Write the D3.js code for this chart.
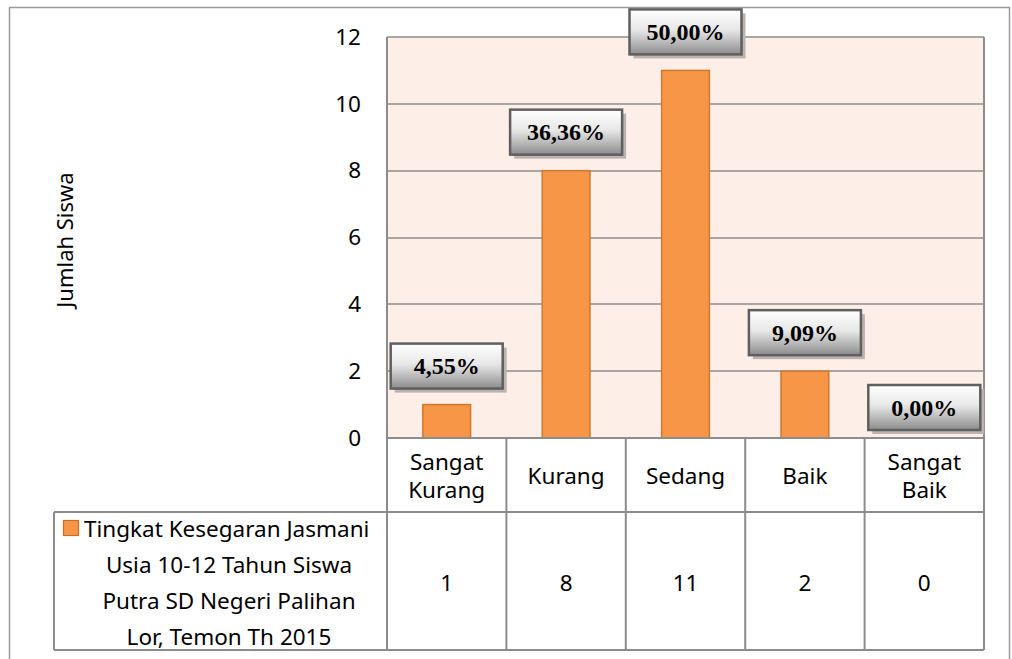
<!DOCTYPE html>
<html>
<head>
<meta charset="utf-8">
<script src="https://cdn.jsdelivr.net/npm/d3@7"></script>
<style>
  body { margin: 0; background: #fff; }
  svg text { font-family: "Noto Sans", "Open Sans", sans-serif; fill: #000; }
</style>
</head>
<body>
<svg id="chart" width="1012" height="659"></svg>
<script>
// === data ===
var categories = [["Sangat", "Kurang"], ["Kurang"], ["Sedang"], ["Baik"], ["Sangat", "Baik"]];
var values = [1, 8, 11, 2, 0];
var percentLabels = ["4,55%", "36,36%", "50,00%", "9,09%", "0,00%"];
var yTicks = [0, 2, 4, 6, 8, 10, 12];
var legendLines = ["Tingkat Kesegaran Jasmani", "Usia 10-12 Tahun Siswa", "Putra SD Negeri Palihan", "Lor, Temon Th 2015"];
var yTitle = "Jumlah Siswa";

// === layout ===
var plotL = 387, plotR = 984, plotT = 37, plotB = 438;
var rowMid = 512, tableB = 650, tableL = 54;
var fontMain = "22.5px";

var svg = d3.select("#chart");

// gradient for the data labels
var defs = svg.append("defs");
var grad = defs.append("linearGradient").attr("id", "lblGrad")
    .attr("x1", 0).attr("y1", 0).attr("x2", 0).attr("y2", 1);
grad.append("stop").attr("offset", "0%").attr("stop-color", "#ffffff");
grad.append("stop").attr("offset", "45%").attr("stop-color", "#e8e8e8");
grad.append("stop").attr("offset", "100%").attr("stop-color", "#8c8c8c");

// outer chart border
svg.append("rect")
    .attr("x", 9.5).attr("y", 7.5).attr("width", 1000).attr("height", 670)
    .attr("fill", "none").attr("stroke", "#9a9a9a").attr("stroke-width", 1.5);

var x = d3.scaleBand().domain(d3.range(categories.length)).range([plotL, plotR]);
var y = d3.scaleLinear().domain([0, 12]).range([plotB, plotT]);

// plot background
svg.append("rect")
    .attr("x", plotL).attr("y", plotT).attr("width", plotR - plotL).attr("height", plotB - plotT)
    .attr("fill", "#fdeee8");

// gridlines
svg.append("g").selectAll("line")
    .data(yTicks)
    .enter().append("line")
    .attr("x1", plotL).attr("x2", plotR)
    .attr("y1", function (d) { return Math.round(y(d)); })
    .attr("y2", function (d) { return Math.round(y(d)); })
    .attr("stroke", "#8c8c8c").attr("stroke-width", 1.6);

// y axis labels
var yAxis = d3.axisLeft(y).tickValues(yTicks).tickSize(0).tickPadding(26);
var gy = svg.append("g").attr("transform", "translate(" + plotL + ",0)").call(yAxis);
gy.select(".domain").remove();
gy.selectAll("text").style("font-size", fontMain).style("font-family", "'Noto Sans', sans-serif");

svg.append("text")
    .attr("transform", "translate(73,240) rotate(-90)")
    .attr("text-anchor", "middle")
    .style("font-size", "22px")
    .text(yTitle);

// bars
var barW = x.bandwidth() * 0.4;
svg.append("g").selectAll("rect")
    .data(values)
    .enter().append("rect")
    .attr("x", function (d, i) { return x(i) + (x.bandwidth() - barW) / 2; })
    .attr("y", function (d) { return y(d); })
    .attr("width", barW)
    .attr("height", function (d) { return plotB - y(d); })
    .attr("fill", "#f79646")
    .attr("stroke", "#d0782f").attr("stroke-width", 1.5);

// table lines
var tbl = svg.append("g").attr("stroke", "#8c8c8c").attr("stroke-width", 2);
tbl.append("line").attr("x1", plotL).attr("x2", plotR).attr("y1", plotB).attr("y2", plotB);
tbl.append("line").attr("x1", tableL).attr("x2", plotR).attr("y1", rowMid).attr("y2", rowMid);
tbl.append("line").attr("x1", tableL).attr("x2", plotR).attr("y1", tableB).attr("y2", tableB);
tbl.append("line").attr("x1", tableL).attr("x2", tableL).attr("y1", rowMid).attr("y2", tableB);
tbl.append("line").attr("x1", plotL).attr("x2", plotL).attr("y1", plotT).attr("y2", tableB);
tbl.selectAll(".sep")
    .data(d3.range(1, categories.length + 1))
    .enter().append("line")
    .attr("x1", function (i) { return i < categories.length ? x(i) : plotR; })
    .attr("x2", function (i) { return i < categories.length ? x(i) : plotR; })
    .attr("y1", function (i) { return i < categories.length ? plotB : plotT; })
    .attr("y2", tableB);

// category labels
var cat = svg.append("g").selectAll("text")
    .data(categories)
    .enter().append("text")
    .attr("text-anchor", "middle")
    .style("font-size", fontMain)
    .attr("x", function (d, i) { return x(i) + x.bandwidth() / 2; })
    .attr("y", function (d) { return d.length == 2 ? 470 : 484; });
cat.selectAll("tspan")
    .data(function (d) { return d; })
    .enter().append("tspan")
    .attr("x", function () { return d3.select(this.parentNode).attr("x"); })
    .attr("dy", function (d, j) { return j == 0 ? 0 : 28; })
    .text(function (d) { return d; });

// data row values
svg.append("g").selectAll("text")
    .data(values)
    .enter().append("text")
    .attr("text-anchor", "middle")
    .style("font-size", fontMain)
    .attr("x", function (d, i) { return x(i) + x.bandwidth() / 2; })
    .attr("y", 591)
    .text(function (d) { return d; });

// legend
svg.append("rect")
    .attr("x", 63.5).attr("y", 520.5).attr("width", 15).attr("height", 15)
    .attr("fill", "#f79646").attr("stroke", "#c96d25").attr("stroke-width", 1.2);
svg.append("text").selectAll("tspan")
    .data(legendLines)
    .enter().append("tspan")
    .attr("x", function (d, i) { return i == 0 ? 84 : 229; })
    .attr("y", function (d, i) { return 537 + i * 36; })
    .attr("text-anchor", function (d, i) { return i == 0 ? "start" : "middle"; })
    .style("font-size", fontMain)
    .text(function (d) { return d; });

// data labels (boxes above bars)
var boxW = 112, boxH = 45, gap = 16;
var lbl = svg.append("g").selectAll("g")
    .data(values)
    .enter().append("g")
    .attr("transform", function (d, i) {
        var cx = x(i) + x.bandwidth() / 2;
        var bottom = d == 0 ? y(d) - 8 : y(d) - gap;
        return "translate(" + (cx - boxW / 2) + "," + (bottom - boxH) + ")";
    });
lbl.append("rect")
    .attr("x", 4).attr("y", 4).attr("width", boxW).attr("height", boxH)
    .attr("fill", "#bab3b0");
lbl.append("rect")
    .attr("width", boxW).attr("height", boxH)
    .attr("fill", "url(#lblGrad)")
    .attr("stroke", "#5f5f5f").attr("stroke-width", 2.5);
lbl.append("text")
    .attr("x", boxW / 2).attr("y", boxH / 2 + 8)
    .attr("text-anchor", "middle")
    .style("font-family", "'Liberation Serif', 'Times New Roman', serif")
    .style("font-weight", "bold")
    .style("font-size", "24px")
    .text(function (d, i) { return percentLabels[i]; });
</script>
</body>
</html>
